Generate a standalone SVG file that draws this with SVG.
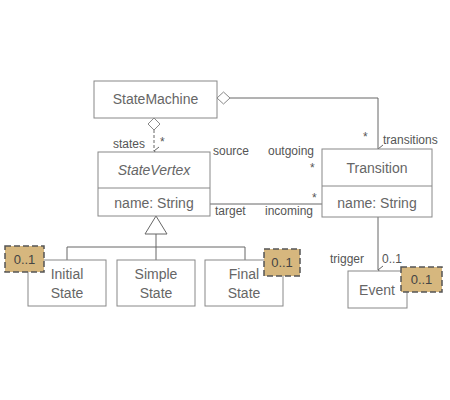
<svg xmlns="http://www.w3.org/2000/svg" width="450" height="400" viewBox="0 0 450 400">
<defs>
<style>
.box{fill:#fff;stroke:#888;stroke-width:1}
.t{font-family:"Liberation Sans",Arial,sans-serif;font-size:14px;fill:#666;text-anchor:middle}
.l{font-family:"Liberation Sans",Arial,sans-serif;font-size:12px;fill:#555}
.c{fill:none;stroke:#666;stroke-width:1}
.badge{fill:#d6b77e;stroke:#555;stroke-width:1.5;stroke-dasharray:6 3}
.b{font-family:"Liberation Sans",Arial,sans-serif;font-size:13px;fill:#444;text-anchor:middle}
</style>
<marker id="open" markerWidth="10" markerHeight="10" refX="5" refY="8" orient="auto" markerUnits="userSpaceOnUse" viewBox="0 0 10 10"><path d="M1,3 L5,8 L9,3" fill="none" stroke="#666"/></marker>
</defs>
<g id="connectors">
<path class="c" d="M230,98 H378 V149" marker-end="url(#open)"/>
<polygon points="217,98 223.5,92 230,98 223.5,104" fill="#fff" stroke="#888"/>
<path class="c" d="M154,130 V151" stroke-dasharray="3 2" marker-end="url(#open)"/>
<polygon points="154,118 160,124 154,130 148,124" fill="#fff" stroke="#888"/>
<path class="c" d="M210,204 H322"/>
<path class="c" d="M378,217 V270" marker-end="url(#open)"/>
<polygon points="156,216 145,234 167,234" fill="#fff" stroke="#666"/>
<path class="c" d="M156,234 V247 M67,260 V247 H245 V260 M156,247 V260"/>
<text class="l" x="113" y="148">states</text>
<text class="l" x="160" y="146">*</text>
<text class="l" x="363" y="141">*</text>
<text class="l" x="383" y="144">transitions</text>
<text class="l" x="213" y="155">source</text>
<text class="l" x="268" y="155">outgoing</text>
<text class="l" x="310" y="172">*</text>
<text class="l" x="312" y="202">*</text>
<text class="l" x="215" y="215">target</text>
<text class="l" x="265" y="215">incoming</text>
<text class="l" x="330" y="263">trigger</text>
<text class="l" x="382" y="263">0..1</text>
</g>
<g id="StateMachine">
<rect class="box" x="94" y="81" width="123" height="37"/>
<text class="t" x="155.5" y="104">StateMachine</text>
</g>
<g id="StateVertex">
<rect class="box" x="98" y="152" width="112" height="64"/>
<line class="box" x1="98" y1="188" x2="210" y2="188"/>
<text class="t" x="154" y="175" font-style="italic">StateVertex</text>
<text class="t" x="154" y="208">name: String</text>
</g>
<g id="Transition">
<rect class="box" x="322" y="149" width="110" height="68"/>
<line class="box" x1="322" y1="186" x2="432" y2="186"/>
<text class="t" x="377" y="173">Transition</text>
<text class="t" x="377" y="208">name: String</text>
</g>
<g id="InitialState">
<rect class="box" x="28" y="260" width="78" height="46"/>
<text class="t" x="67" y="279">Initial</text>
<text class="t" x="67" y="298">State</text>
<rect class="badge" x="5" y="246" width="39" height="26"/>
<text class="b" x="24.5" y="264">0..1</text>
</g>
<g id="SimpleState">
<rect class="box" x="117" y="260" width="78" height="46"/>
<text class="t" x="156" y="279">Simple</text>
<text class="t" x="156" y="298">State</text>
</g>
<g id="FinalState">
<rect class="box" x="205" y="260" width="78" height="46"/>
<text class="t" x="244" y="279">Final</text>
<text class="t" x="244" y="298">State</text>
<rect class="badge" x="264" y="249" width="36" height="27"/>
<text class="b" x="282" y="267">0..1</text>
</g>
<g id="Event">
<rect class="box" x="348" y="271" width="59" height="37"/>
<text class="t" x="377" y="295">Event</text>
<rect class="badge" x="401" y="267" width="41" height="25"/>
<text class="b" x="421.5" y="284">0..1</text>
</g>
</svg>
